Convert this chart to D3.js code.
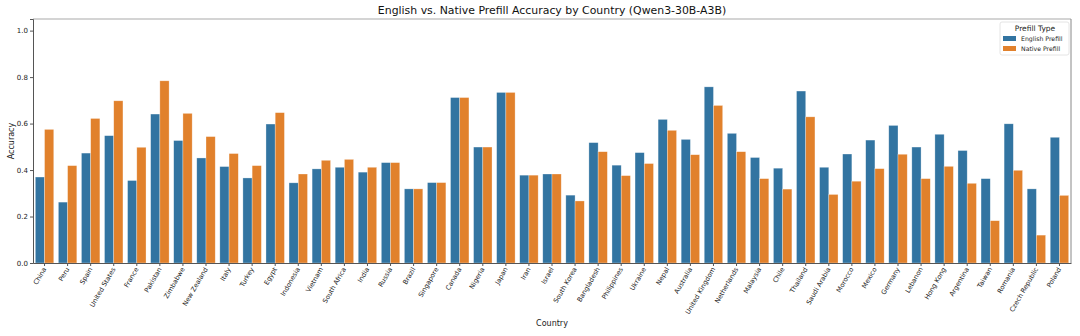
<!DOCTYPE html>
<html><head><meta charset="utf-8">
<script src="https://cdn.jsdelivr.net/npm/d3@7"></script>
<style>body{margin:0;background:#fff}svg{display:block;font-family:"DejaVu Sans",sans-serif}</style>
</head><body><svg id="c" width="1080" height="336"></svg>
<script>
const countries = ["China","Peru","Spain","United States","France","Pakistan","Zimbabwe","New Zealand","Italy","Turkey","Egypt","Indonesia","Vietnam","South Africa","India","Russia","Brazil","Singapore","Canada","Nigeria","Japan","Iran","Israel","South Korea","Bangladesh","Philippines","Ukraine","Nepal","Australia","United Kingdom","Netherlands","Malaysia","Chile","Thailand","Saudi Arabia","Morocco","Mexico","Germany","Lebanon","Hong Kong","Argentina","Taiwan","Romania","Czech Republic","Poland"];
const englishPrefill = [0.370,0.262,0.473,0.548,0.355,0.641,0.527,0.452,0.415,0.366,0.598,0.345,0.405,0.412,0.391,0.432,0.319,0.346,0.712,0.499,0.734,0.378,0.383,0.292,0.518,0.421,0.475,0.618,0.532,0.758,0.558,0.454,0.408,0.740,0.412,0.469,0.529,0.592,0.499,0.554,0.484,0.363,0.599,0.319,0.541];
const nativePrefill = [0.575,0.419,0.622,0.698,0.498,0.784,0.644,0.544,0.471,0.419,0.647,0.383,0.442,0.446,0.412,0.432,0.319,0.346,0.712,0.499,0.734,0.378,0.383,0.267,0.479,0.376,0.428,0.571,0.466,0.678,0.479,0.363,0.318,0.629,0.295,0.352,0.406,0.468,0.363,0.416,0.343,0.182,0.399,0.120,0.291];
const seriesNames = ["English Prefill","Native Prefill"];
const yTicks = [0.0,0.2,0.4,0.6,0.8,1.0];
const colors = ["#3274a1","#e1812c"];

const svg = d3.select("#c");
const m = {l:33, r:1071, t:19, b:263};
const x = d3.scaleBand().domain(countries).range([m.l, m.r]).paddingInner(0).paddingOuter(0);
const xs = d3.scaleBand().domain(seriesNames).range([0, x.bandwidth()*0.8]);
const y = d3.scaleLinear().domain([0,1.05]).range([m.b, m.t]);
const series = [englishPrefill, nativePrefill];

const g = svg.append("g");
series.forEach((vals, si) => {
  g.selectAll(null).data(countries).enter().append("rect")
    .attr("x", d => x(d) + x.bandwidth()*0.1 + xs(seriesNames[si]))
    .attr("width", xs.bandwidth())
    .attr("y", (d,i) => y(vals[i]))
    .attr("height", (d,i) => y(0) - y(vals[i]))
    .attr("fill", colors[si])
    .attr("stroke", "rgba(255,255,255,0.5)")
    .attr("stroke-width", 0.6);
});

// frame
svg.append("line").attr("x1",m.l).attr("x2",m.r).attr("y1",m.t).attr("y2",m.t).attr("stroke","#aaa").attr("stroke-width",1.2);
svg.append("line").attr("x1",m.r).attr("x2",m.r).attr("y1",m.t).attr("y2",m.b).attr("stroke","#888").attr("stroke-width",1);

const ya = svg.append("g").attr("transform",`translate(${m.l},0)`)
  .call(d3.axisLeft(y).tickValues(yTicks).tickFormat(d3.format(".1f")).tickSize(3).tickPadding(2));
ya.select(".domain").attr("stroke","#555");
ya.selectAll("line").attr("stroke","#555");
ya.selectAll("text").attr("font-size",7).attr("fill","#222").attr("font-family","DejaVu Sans");

const xa = svg.append("g").attr("transform",`translate(0,${m.b})`)
  .call(d3.axisBottom(x).tickSize(3).tickSizeOuter(0));
xa.select(".domain").attr("stroke","#555");
xa.selectAll("line").attr("stroke","#555");
xa.selectAll("text").attr("font-size",6.6).attr("fill","#222").attr("font-family","DejaVu Sans")
  .attr("text-anchor","end").attr("dy",null).attr("y",0)
  .attr("transform","translate(2,6) rotate(-60)");

svg.append("text").attr("x",(m.l+m.r)/2).attr("y",14).attr("text-anchor","middle")
  .attr("font-size",10.9).attr("fill","#111").text("English vs. Native Prefill Accuracy by Country (Qwen3-30B-A3B)");
svg.append("text").attr("x",(m.l+m.r)/2).attr("y",326).attr("text-anchor","middle")
  .attr("font-size",8).attr("fill","#222").text("Country");
svg.append("text").attr("transform",`translate(14,${(m.t+m.b)/2}) rotate(-90)`).attr("text-anchor","middle")
  .attr("font-size",8).attr("fill","#222").text("Accuracy");

// legend
const lg = svg.append("g").attr("transform","translate(1000,22)");
lg.append("rect").attr("width",69).attr("height",33).attr("rx",2).attr("fill","#fff").attr("fill-opacity",0.8).attr("stroke","#ddd").attr("stroke-width",0.8);
lg.append("text").attr("x",35).attr("y",9).attr("text-anchor","middle").attr("font-size",7.5).attr("fill","#222").text("Prefill Type");
seriesNames.forEach((s,i) => {
  lg.append("rect").attr("x",3).attr("y",14+i*10).attr("width",13).attr("height",5).attr("fill",colors[i]);
  lg.append("text").attr("x",21).attr("y",19+i*10).attr("font-size",6.2).attr("fill","#222").text(s);
});
</script></body></html>
